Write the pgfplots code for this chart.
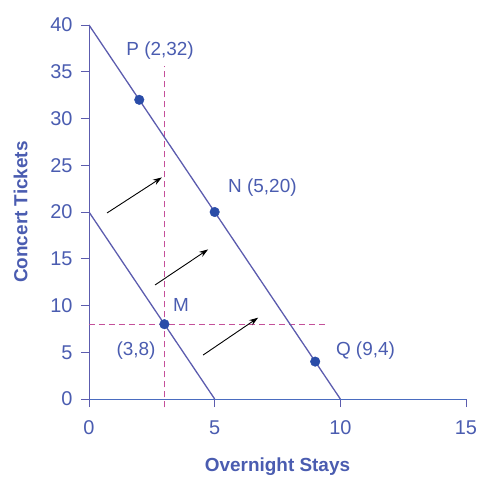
\documentclass[border=0pt]{standalone}
\usepackage{pgfplots}
\pgfplotsset{compat=1.18}
\usetikzlibrary{arrows.meta}
\usepackage{fontspec}
\setmainfont{Liberation Sans}
\definecolor{tickblue}{HTML}{4A5CB0}
\definecolor{linepurple}{HTML}{5C5CAE}
\definecolor{dotblue}{HTML}{2A4CA8}
\definecolor{dashpink}{HTML}{C4509A}
\definecolor{xaxblue}{HTML}{4A6CC0}
\begin{document}
\begin{tikzpicture}
\begin{axis}[
  scale only axis, width=377bp, height=374bp,
  xmin=0, xmax=15, ymin=0, ymax=40,
  axis x line*=bottom, axis y line*=left,
  x axis line style={-, draw=xaxblue, line width=1pt},
  y axis line style={-, draw=linepurple, line width=1pt},
  xtick={0,5,10,15}, ytick={0,5,...,40},
  tick align=outside, major tick length=8bp,
  tick style={draw=linepurple, line width=0.8pt},
  tick label style={font=\fontsize{20}{22}\selectfont, text=tickblue},
  /pgf/number format/assume math mode=true,
  xticklabel style={yshift=-10bp},
  yticklabel style={xshift=-5bp},
  xlabel={\bfseries Overnight Stays},
  ylabel={\bfseries Concert Tickets},
  label style={font=\fontsize{19}{21}\selectfont, text=tickblue},
  xlabel style={yshift=-16bp},
  ylabel style={yshift=16bp},
  clip=false,
]
% dashed guides
\addplot[dashpink, dash pattern=on 6bp off 4bp, line width=0.8pt] coordinates {(3,-0.9) (3,35.6)};
\addplot[dashpink, dash pattern=on 6bp off 4bp, line width=0.8pt] coordinates {(0,8) (9.4,8)};
% budget lines
\addplot[linepurple, line width=1.3pt] coordinates {(0,40) (10,0)};
\addplot[linepurple, line width=1.3pt] coordinates {(0,20) (5,0)};
% arrows
\addplot[black, line width=0.9pt, -{Stealth[length=9bp,width=6bp]}] coordinates {(0.72,19.9) (2.9,23.7)};
\addplot[black, line width=0.9pt, -{Stealth[length=9bp,width=6bp]}] coordinates {(2.63,12.2) (4.74,16.0)};
\addplot[black, line width=0.9pt, -{Stealth[length=9bp,width=6bp]}] coordinates {(4.54,4.7) (6.73,8.7)};
% points
\addplot[only marks, mark=*, mark size=4.8bp, dotblue] coordinates {(2,32) (5,20) (9,4) (3,8)};
% labels
\node[text=tickblue, font=\fontsize{19}{21}\selectfont] at (axis cs:2.83,37.3) {P (2,32)};
\node[text=tickblue, font=\fontsize{19}{21}\selectfont] at (axis cs:6.9,22.6) {N (5,20)};
\node[text=tickblue, font=\fontsize{19}{21}\selectfont] at (axis cs:3.66,10.1) {M};
\node[text=tickblue, font=\fontsize{19}{21}\selectfont] at (axis cs:1.87,5.2) {(3,8)};
\node[text=tickblue, font=\fontsize{19}{21}\selectfont] at (axis cs:11.0,5.2) {Q (9,4)};
\end{axis}
\pgfresetboundingbox
\path (-89bp,-78bp) rectangle (390bp,399bp);
\end{tikzpicture}
\end{document}
